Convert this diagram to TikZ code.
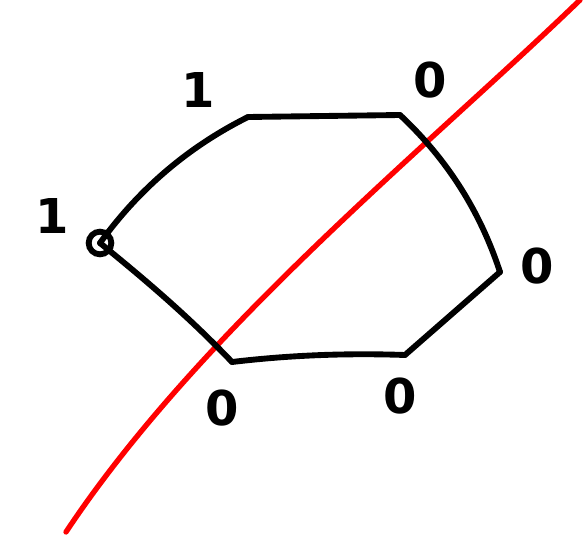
\documentclass[tikz,border=0pt]{standalone}
\usepackage{fontspec}
\setsansfont{DejaVu Sans}
\begin{document}
\begin{tikzpicture}[x=0.75pt,y=-0.75pt,
  edge/.style={line width=4.4pt,line cap=round,line join=round,black},
  cut/.style={line width=4pt,line cap=round,red},
  lbl/.style={font=\sffamily\bfseries\fontsize{36}{36}\selectfont,inner sep=0pt},
  vtxmark/.style={circle,draw,line width=4.4pt,minimum size=17pt,inner sep=0pt}]
\useasboundingbox (0,0) rectangle (583,546);
% vertices
\coordinate (A) at (100,243);
\coordinate (B) at (248,117);
\coordinate (C) at (400,115);
\coordinate (D) at (500,272);
\coordinate (E) at (405,355);
\coordinate (F) at (232,362);
\coordinate (r0) at (66,532);
\coordinate (r1) at (580,0);
% red cut
\draw[cut] (r0) .. controls (200,330) and (430,145) .. (r1);
% hexagon edges
\draw[edge] (A) .. controls (139,189) and (188,147) .. (B);
\draw[edge] (B) -- (C);
\draw[edge] (C) .. controls (447,159) and (480,211) .. (D);
\draw[edge] (D) -- (E);
\draw[edge] (E) .. controls (348,353) and (291,355) .. (F);
\draw[edge] (F) .. controls (190,318) and (148,282) .. (A);
\node[vtxmark] (Ac) at (A) {};
% labels
\node[lbl] (lB) at (198,90) {1};
\node[lbl] (lA) at (52,216) {1};
\node[lbl] (lC) at (430,80) {0};
\node[lbl] (lD) at (537,266) {0};
\node[lbl] (lF) at (222,408) {0};
\node[lbl] (lE) at (400,396) {0};
\end{tikzpicture}
\end{document}
